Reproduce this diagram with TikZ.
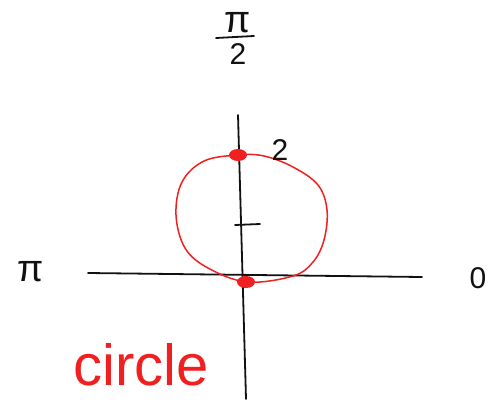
\documentclass[tikz,border=0pt]{standalone}
\usepackage{fontspec}
\setmainfont{Liberation Sans}
\usepackage{tikz}
\definecolor{sketchink}{HTML}{111111}
\definecolor{sketchred}{HTML}{F02020}
\newcommand{\labeltext}{\fontsize{30}{34}\selectfont}
\newcommand{\bigtext}{\fontsize{38}{42}\selectfont}
\newcommand{\notetext}{\fontsize{58}{64}\selectfont}

\begin{document}
\begin{tikzpicture}[x=1pt,y=-1pt,line cap=round,line join=round]
\useasboundingbox (0,0) rectangle (494,399);
\coordinate (ytop) at (238,115);
\coordinate (ybot) at (246,399);
\coordinate (xleft) at (88,273);
\coordinate (xright) at (422,277);
\coordinate (tickl) at (235,225);
\coordinate (tickr) at (260,224);
\coordinate (barl) at (216,38);
\coordinate (barr) at (254,36);

\draw[sketchink,line width=1.8pt] (ytop) -- (ybot);
\draw[sketchink,line width=1.8pt] (xleft) -- (xright);
\draw[sketchink,line width=1.8pt] (tickl) -- (tickr);
\draw[sketchink,line width=1.8pt] (barl) -- (barr);

\draw[sketchred,line width=1.5pt] plot[smooth cycle,tension=0.6] coordinates {(238,155) (264,156) (293,167) (318,185) (327,210) (324,240) (313,262) (293,276) (247,282) (208,268) (185,248) (176,215) (182,182) (204,161)};
\fill[sketchred] (238,155) ellipse (9 and 6);
\fill[sketchred] (246,282) ellipse (9 and 6);

\node[sketchink,font=\bigtext,inner sep=0pt] (halfpi) at (238,23) {π};
\node[sketchink,font=\labeltext,inner sep=0pt] (halftwo) at (238,54) {2};
\node[sketchink,font=\bigtext] (pi) at (31,272) {π};
\node[sketchink,font=\labeltext] (zero) at (478,278) {0};
\node[sketchink,font=\labeltext] (two) at (280,150) {2};
\node[sketchred,font=\notetext] (note) at (141,365) {circle};
\end{tikzpicture}
\end{document}
